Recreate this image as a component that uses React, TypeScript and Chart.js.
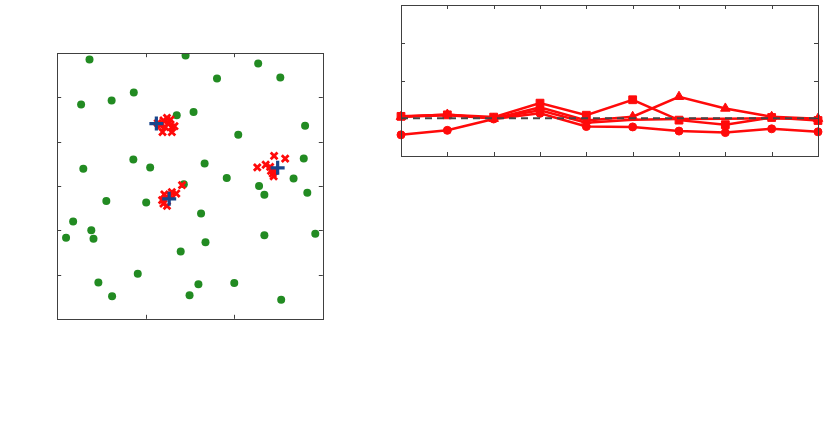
import React, { useEffect, useRef } from "react";
import { Chart, registerables } from "chart.js";

Chart.register(...registerables);

// ---- Left panel (scatter) data ----
const greenX = [0.73, 2.9, 4.54, 3.61, 5.04, 0.54, 1.23, 1.73, 2.7, 3.08, 5.6, 4.09, 0.59, 1.72, 2.1, 3.33, 3.83, 5.57, 5.34, 4.56, 4.68, 5.65, 2.86, 1.11, 2.01, 3.25, 0.36, 0.77, 0.2, 0.82, 4.68, 5.83, 3.35, 2.79, 1.82, 0.93, 3.19, 4.0, 1.24, 2.99, 5.06];
const greenY = [5.86, 5.95, 5.77, 5.43, 5.45, 4.84, 4.93, 5.11, 4.6, 4.67, 4.36, 4.16, 3.39, 3.6, 3.42, 3.51, 3.18, 3.62, 3.17, 3.0, 2.8, 2.85, 3.04, 2.66, 2.63, 2.38, 2.2, 2.0, 1.83, 1.81, 1.89, 1.92, 1.73, 1.52, 1.02, 0.82, 0.78, 0.81, 0.51, 0.53, 0.43];
const redX = [2.48, 2.59, 2.38, 2.59, 2.65, 2.33, 2.27, 2.52, 2.44, 2.4, 2.56, 2.48, 2.42, 2.59, 2.69, 2.82, 2.37, 2.56, 2.47, 2.4, 4.9, 5.15, 4.52, 4.71, 4.81, 4.87, 4.89, 4.83, 4.92];
const redY = [4.54, 4.32, 4.22, 4.22, 4.35, 4.37, 4.42, 4.42, 4.33, 4.48, 4.5, 2.55, 2.81, 2.86, 2.83, 3.02, 2.68, 2.79, 2.75, 2.6, 3.68, 3.62, 3.42, 3.48, 3.43, 3.28, 3.22, 3.34, 3.35];
const centerX = [2.24, 2.53, 4.98];
const centerY = [4.41, 2.71, 3.41];

// ---- Right panel (lines) data ----
const lineLabels = ["1", "2", "3", "4", "5", "6", "7", "8", "9", "10"];
const circleSeries = [0.56, 0.68, 0.98, 1.13, 0.78, 0.77, 0.66, 0.62, 0.72, 0.64];
const squareSeries = [1.05, 1.09, 1.03, 1.4, 1.08, 1.49, 0.95, 0.83, 1.02, 0.94];
const triangleSeries = [1.04, 1.1, 0.99, 1.29, 0.94, 1.04, 1.57, 1.26, 1.04, 0.99];
const fourthSeries = [1.04, 1.08, 1.0, 1.21, 0.88, 0.96, 0.98, 0.99, 1.0, 0.98];
const baseline = [1, 1, 1, 1, 1, 1, 1, 1, 1, 1];

const RED = "rgb(255,10,10)";

const framePlugin = {
  id: "frame",
  afterDraw(chart: any) {
    const { ctx, chartArea } = chart;
    const { left, right, top, bottom } = chartArea;
    const xs = chart.scales.x;
    const ys = chart.scales.y;
    const tl = 4;
    ctx.save();
    ctx.strokeStyle = "#404040";
    ctx.lineWidth = 1;
    ctx.beginPath();
    xs.ticks.forEach((t: any, i: number) => {
      const p = Math.round(xs.getPixelForTick(i)) + 0.5;
      if (p <= left + 1 || p >= right - 1) return;
      ctx.moveTo(p, bottom);
      ctx.lineTo(p, bottom - tl);
      ctx.moveTo(p, top);
      ctx.lineTo(p, top + tl);
    });
    ys.ticks.forEach((t: any) => {
      const p = Math.round(ys.getPixelForValue(t.value)) + 0.5;
      if (p <= top + 1 || p >= bottom - 1) return;
      ctx.moveTo(left, p);
      ctx.lineTo(left + tl, p);
      ctx.moveTo(right, p);
      ctx.lineTo(right - tl, p);
    });
    ctx.stroke();
    ctx.strokeRect(Math.round(left) + 0.5, Math.round(top) + 0.5, Math.round(right - left), Math.round(bottom - top));
    ctx.restore();
  },
};

function ScatterPanel() {
  const ref = useRef<HTMLCanvasElement>(null);
  useEffect(() => {
    const chart = new Chart(ref.current!, {
      type: "scatter",
      data: {
        datasets: [
          {
            data: centerX.map((x, i) => ({ x, y: centerY[i] })),
            pointStyle: "cross",
            pointRadius: 7,
            borderColor: "rgb(25,70,140)",
            borderWidth: 3.2,
          },
          {
            data: redX.map((x, i) => ({ x, y: redY[i] })),
            pointStyle: "crossRot",
            pointRadius: 4.8,
            borderColor: RED,
            borderWidth: 2.8,
          },
          {
            data: greenX.map((x, i) => ({ x, y: greenY[i] })),
            pointStyle: "circle",
            pointRadius: 4,
            backgroundColor: "rgb(34,139,34)",
            borderColor: "rgb(34,139,34)",
            borderWidth: 0,
          },
        ] as any,
      },
      options: {
        animation: false,
        responsive: false,
        events: [],
        layout: { padding: 10 },
        plugins: { legend: { display: false }, tooltip: { enabled: false } },
        scales: {
          x: { type: "linear", min: 0, max: 6, display: false, ticks: { stepSize: 2 } },
          y: { type: "linear", min: 0, max: 6, display: false, ticks: { stepSize: 1 } },
        },
      },
      plugins: [framePlugin],
    });
    return () => chart.destroy();
  }, []);
  return (
    <canvas
      ref={ref}
      width={286}
      height={286}
      style={{ position: "absolute", left: 47, top: 43, width: 286, height: 286 }}
    />
  );
}

function LinePanel() {
  const ref = useRef<HTMLCanvasElement>(null);
  useEffect(() => {
    const common = {
      borderColor: RED,
      backgroundColor: RED,
      borderWidth: 2.5,
      pointBorderWidth: 1,
      fill: false,
      tension: 0,
      clip: false as any,
    };
    const chart = new Chart(ref.current!, {
      type: "line",
      data: {
        labels: lineLabels,
        datasets: [
          {
            data: baseline,
            borderColor: "#454545",
            borderWidth: 2,
            borderDash: [7, 5],
            pointRadius: 0,
            fill: false,
            clip: false as any,
          },
          { ...common, data: squareSeries, pointStyle: "rect", pointRadius: 5.5 },
          { ...common, data: triangleSeries, pointStyle: "triangle", pointRadius: 5.5 },
          { ...common, data: fourthSeries, pointStyle: "circle", pointRadius: 0 },
          { ...common, data: circleSeries, pointStyle: "circle", pointRadius: 4 },
        ] as any,
      },
      options: {
        animation: false,
        responsive: false,
        events: [],
        layout: { padding: { left: 10, top: 8, right: 8, bottom: 10 } },
        plugins: { legend: { display: false }, tooltip: { enabled: false } },
        scales: {
          x: { type: "category", offset: false, display: false },
          y: { type: "linear", min: 0, max: 4, display: false, ticks: { stepSize: 1 } },
        },
      },
      plugins: [framePlugin],
    });
    return () => chart.destroy();
  }, []);
  return (
    <canvas
      ref={ref}
      width={435}
      height={169}
      style={{ position: "absolute", left: 391, top: -3, width: 435, height: 169 }}
    />
  );
}

export default function App() {
  return (
    <div
      style={{
        position: "fixed",
        left: 0,
        top: 0,
        width: 826,
        height: 435,
        background: "#ffffff",
        overflow: "hidden",
      }}
    >
      <ScatterPanel />
      <LinePanel />
    </div>
  );
}
